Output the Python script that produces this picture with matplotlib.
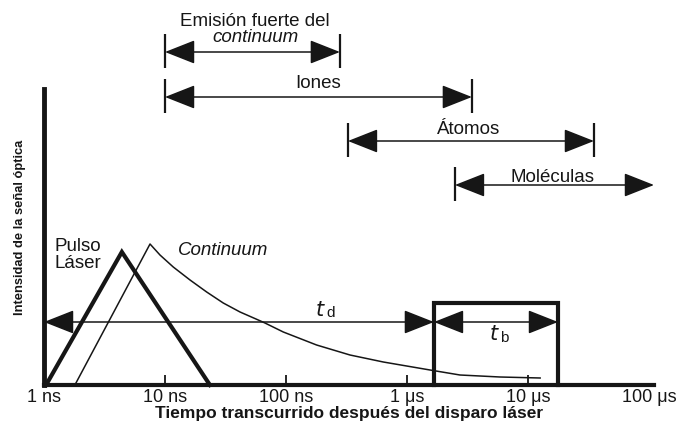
import numpy as np
import matplotlib
matplotlib.use("Agg")
import matplotlib.pyplot as plt

plt.rcParams['font.family'] = ['Liberation Sans', 'DejaVu Sans']

# --- data (intensity in arbitrary units) --- #
pulse_t = [1.04e-9, 4.4e-9, 23.5e-9]
pulse_i = [0, 133, 0]

cont_t = [1.80e-9, 7.52e-9, 9.09e-9, 11.7e-9, 16.1e-9, 22.1e-9, 30.3e-9, 41.7e-9,
          59.0e-9, 67.0e-9, 95e-9, 179e-9, 338e-9, 637e-9, 1.55e-6, 2.74e-6,
          5.87e-6, 12.6e-6]
cont_i = [0, 141, 130, 118, 105, 93, 82, 73, 65, 62, 53, 40, 30, 23, 15, 10, 8, 7]

gate_start = 1.67e-6
gate_end = 17.7e-6
gate_level = 82
delay_level = 63

tick_vals = [1e-9, 1e-8, 1e-7, 1e-6, 1e-5, 1e-4]
tick_labels = ["1 ns", "10 ns", "100 ns", "1 μs", "10 μs", "100 μs"]

# species windows: (label, start, end, y, end bar on the right)
windows = [
    ("Emisión fuerte del", 1e-8, 279e-9, 333, True),
    ("Iones", 1e-8, 3.44e-6, 288, True),
    ("Átomos", 325e-9, 35.1e-6, 244, True),
    ("Moléculas", 2.49e-6, 110e-6, 200, False),
]
window_text = [(55.5e-9, 364), (184e-9, 302), (3.25e-6, 256), (15.8e-6, 208)]

# ---------------- #
ink = "#161616"
fig = plt.figure(figsize=(6.84, 4.23), dpi=100)
ax = fig.add_axes([44 / 684, 38 / 423, 610 / 684, 385 / 423])
ax.set_xscale("log")
ax.set_xlim(1e-9, 1.1e-4)
ax.set_ylim(0, 385)

for s in ["top", "right"]:
    ax.spines[s].set_visible(False)
ax.spines["left"].set_bounds(0, 296)
ax.spines["bottom"].set_bounds(1e-9, 1.1e-4)
ax.spines["left"].set_linewidth(3.5)
ax.spines["bottom"].set_linewidth(3)
ax.spines["left"].set_color(ink)
ax.spines["bottom"].set_color(ink)

ax.set_xticks(tick_vals)
ax.set_xticklabels(tick_labels, fontsize=13, color=ink)
ax.xaxis.set_minor_locator(matplotlib.ticker.NullLocator())
ax.tick_params(axis="x", direction="in", length=7, width=1.3, pad=3, color=ink)
ax.xaxis.get_major_ticks()[-1].tick1line.set_visible(False)
ax.set_yticks([])

ax.set_xlabel("Tiempo transcurrido después del disparo láser",
              fontsize=12.5, fontweight="bold", labelpad=0, color=ink)
ax.text(-0.039, (385 - 227) / 385, "Intensidad de la señal óptica",
        transform=ax.transAxes, rotation=90, ha="center", va="center",
        fontsize=9.3, fontweight="bold", color=ink)

# curves
ax.plot(pulse_t, pulse_i, color=ink, lw=3, solid_joinstyle="miter", clip_on=False)
ax.plot(cont_t, cont_i, color=ink, lw=1.1, clip_on=False)

# gate box
ax.plot([gate_start, gate_start, gate_end, gate_end], [0, gate_level, gate_level, 0],
        color=ink, lw=3, solid_joinstyle="miter", clip_on=False)

head = "<|-|>,head_length=19,head_width=7.5"


def dim_arrow(x0, x1, y, style=head):
    ax.annotate("", xy=(x1, y), xytext=(x0, y),
                arrowprops=dict(arrowstyle=style, color=ink, lw=1.1,
                                shrinkA=0, shrinkB=0, mutation_scale=1),
                annotation_clip=False)


# delay and gate width
dim_arrow(1e-9, gate_start, delay_level)
dim_arrow(gate_start, gate_end, delay_level)
ax.text(214e-9, 75, "$t$", fontsize=15, ha="right", va="center", color=ink)
ax.text(214e-9, 72, "d", fontsize=11, ha="left", va="center", color=ink)
ax.text(5.87e-6, 50, "$t$", fontsize=15, ha="right", va="center", color=ink)
ax.text(5.87e-6, 47, "b", fontsize=11, ha="left", va="center", color=ink)

# species windows
for (label, t0, t1, y, right_bar), (tx, ty) in zip(windows, window_text):
    dim_arrow(t0, t1, y)
    ax.vlines(t0, y - 16, y + 18, color=ink, lw=1.6)
    if right_bar:
        ax.vlines(t1, y - 16, y + 18, color=ink, lw=1.6)
    ax.text(tx, ty, label, fontsize=13.5, ha="center", va="center", color=ink)
ax.text(55.5e-9, 347, "continuum", fontsize=13.5, style="italic",
        ha="center", va="center", color=ink)

ax.text(1.23e-9, 139, "Pulso", fontsize=13.5, ha="left", va="center", color=ink)
ax.text(1.23e-9, 122, "Láser", fontsize=13.5, ha="left", va="center", color=ink)
ax.text(30.2e-9, 135, "Continuum", fontsize=13.5, style="italic",
        ha="center", va="center", color=ink)

plt.savefig("out.png", dpi=100)
